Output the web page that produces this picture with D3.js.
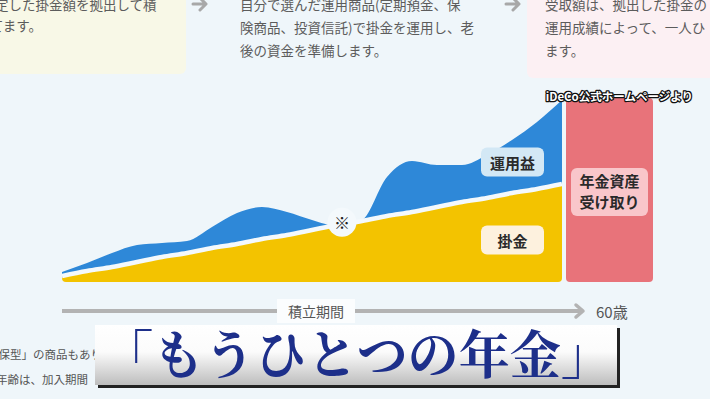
<!DOCTYPE html>
<html>
<head>
<meta charset="utf-8">
<script src="https://cdn.jsdelivr.net/npm/d3@7"></script>
<style>
  html, body { margin: 0; padding: 0; background: #eff6fa; overflow: hidden; }
  svg { display: block; font-family: "Noto Sans CJK JP", "Noto Sans", sans-serif; }
</style>
</head>
<body>
<div id="vis"></div>
<script>
// years into the accumulation period
const steps = [0, 1, 2, 3, 4, 5, 6, 7, 8, 9, 10, 11, 12, 13, 14, 15, 16, 17, 18, 19, 20];
// 掛金 (paid-in contributions), grows in a straight line
const contribution = [2.5, 5, 7, 9.5, 12, 14, 16.5, 18.5, 21, 23, 25.5, 28, 30, 32.5, 34.5, 37, 39.5, 41.5, 44, 46, 48.5];
// total assets = contributions + 運用益
const assets = [5, 9.5, 14.5, 18.5, 19.5, 20.5, 27.5, 34.5, 37.5, 35, 31, 28, 31, 52.5, 60.5, 58.5, 58.5, 63.5, 71, 80, 91];
// step where the ※ (loss warning) sits
const warnStep = 11.2;

const seriesLabels = ["運用益", "掛金"];
const payoutLabel = ["年金資産", "受け取り"];
const axisLabel = "積立期間";
const endLabel = "60歳";
const sourceLabel = "iDeCo公式ホームページより";
const captionText = "「もうひとつの年金」";

// description text from the page above the chart
const topLeftLines = ["定した掛金額を拠出して積", "てます。"];
const topMidLines = ["自分で選んだ運用商品(定期預金、保", "険商品、投資信託)で掛金を運用し、老", "後の資金を準備します。"];
const topRightLines = ["受取額は、拠出した掛金の", "運用成績によって、一人ひ", "ます。"];
const bottomLines = ["元本確保型」の商品もあります。", "受給開始年齢は、加入期間"];

const width = 710;
const height = 399;

const svg = d3.select("#vis").append("svg")
  .attr("width", width)
  .attr("height", height);

const defs = svg.append("defs");

// ---- page text above the chart ----
svg.append("rect").attr("x", -10).attr("y", -10).attr("width", 196).attr("height", 84)
  .attr("rx", 6).attr("fill", "#f8f8e7");
svg.append("rect").attr("x", 527).attr("y", -10).attr("width", 200).attr("height", 88)
  .attr("rx", 6).attr("fill", "#fcf0f3");

function textBlock(lines, xs, y0, lh) {
  svg.append("g").selectAll("text").data(lines).enter().append("text")
    .attr("x", (d, i) => xs[i])
    .attr("y", (d, i) => y0 + i * lh)
    .attr("font-size", 13.5)
    .attr("fill", "#5c5c5c")
    .text((d) => d);
}
textBlock(topLeftLines, [-5, -10], 10, 21);
textBlock(topMidLines, [240, 240, 240], 10, 23);
textBlock(topRightLines, [545, 545, 545], 10, 23);

// little grey arrows between the boxes
[200, 513].forEach((ax) => {
  svg.append("path")
    .attr("d", `M${ax - 7},4 L${ax + 5},4 M${ax},-2 L${ax + 6},4 L${ax},10`)
    .attr("fill", "none")
    .attr("stroke", "#a8a8a8")
    .attr("stroke-width", 3)
    .attr("stroke-linecap", "round")
    .attr("stroke-linejoin", "round");
});

// ---- scales ----
const x = d3.scaleLinear().domain([0, 20]).range([62, 562]);
const y = d3.scaleLinear().domain([0, 100]).range([282, 82]);

const rows = steps.map((s, i) => ({ step: s, base: contribution[i], total: assets[i] }));

defs.append("clipPath").attr("id", "plot-clip")
  .append("rect")
  .attr("x", x(0)).attr("y", y(100))
  .attr("width", x(20) - x(0)).attr("height", y(0) - y(100))
  .attr("rx", 4);

const plot = svg.append("g").attr("clip-path", "url(#plot-clip)");

// 運用益 (blue) sits on top of the contributions
const profitArea = d3.area()
  .x((d) => x(d.step))
  .y0((d) => y(d.base))
  .y1((d) => y(d.total))
  .curve(d3.curveMonotoneX);

plot.append("path")
  .datum(rows)
  .attr("d", profitArea)
  .attr("fill", "#2e88d8");

// 掛金 (yellow)
const baseArea = d3.area()
  .x((d) => x(d.step))
  .y0(y(0))
  .y1((d) => y(d.base))
  .curve(d3.curveMonotoneX);

plot.append("path")
  .datum(rows)
  .attr("d", baseArea)
  .attr("fill", "#f3c300");

// white gap between the two layers
plot.append("path")
  .datum(rows)
  .attr("d", d3.line().x((d) => x(d.step)).y((d) => y(d.base) - 1).curve(d3.curveMonotoneX))
  .attr("fill", "none")
  .attr("stroke", "#f4f9fc")
  .attr("stroke-width", 4.5);

// ※ marker
const wx = x(warnStep);
const wy = y(d3.interpolateNumber(contribution[11], contribution[12])(warnStep - 11)) - 3;
svg.append("circle").attr("cx", wx).attr("cy", wy).attr("r", 14.5).attr("fill", "#f4f9fc");
svg.append("text")
  .attr("x", wx).attr("y", wy)
  .attr("text-anchor", "middle")
  .attr("dominant-baseline", "central")
  .attr("font-size", 16)
  .attr("fill", "#222")
  .text("※");

// pension payout column
const payTop = y(d3.max(assets)) - 2;
svg.append("rect")
  .attr("x", x(20) + 4).attr("y", payTop)
  .attr("width", 87).attr("height", y(0) - payTop)
  .attr("rx", 4)
  .attr("fill", "#e8737a");

svg.append("rect")
  .attr("x", x(20) + 9).attr("y", 168)
  .attr("width", 77).attr("height", 48)
  .attr("rx", 6)
  .attr("fill", "#f9c6ca");
svg.append("g").selectAll("text").data(payoutLabel).enter().append("text")
  .attr("x", x(20) + 47.5)
  .attr("y", (d, i) => 187 + i * 21)
  .attr("text-anchor", "middle")
  .attr("font-size", 15)
  .attr("font-weight", 700)
  .attr("fill", "#2a2a2a")
  .text((d) => d);

// series tags
const tagY = [162, 240];
const tagFill = ["#d3e8f5", "#fdf1de"];
seriesLabels.forEach((lbl, i) => {
  svg.append("rect")
    .attr("x", 481).attr("y", tagY[i] - 14.5)
    .attr("width", 63).attr("height", 29)
    .attr("rx", 6)
    .attr("fill", tagFill[i]);
  svg.append("text")
    .attr("x", 512.5).attr("y", tagY[i])
    .attr("text-anchor", "middle")
    .attr("dominant-baseline", "central")
    .attr("font-size", 15)
    .attr("font-weight", 700)
    .attr("fill", "#2a2a2a")
    .text(lbl);
});

// source credit (TV-style outlined text)
svg.append("text")
  .attr("x", 693).attr("y", 101)
  .attr("text-anchor", "end")
  .attr("font-size", 11.5)
  .attr("font-weight", 700)
  .attr("fill", "#fff")
  .attr("stroke", "#111")
  .attr("stroke-width", 2.5)
  .attr("paint-order", "stroke")
  .attr("stroke-linejoin", "round")
  .text(sourceLabel);

// ---- time axis arrow ----
const axisY = 311;
svg.append("line")
  .attr("x1", x(0)).attr("x2", x(20) + 20)
  .attr("y1", axisY).attr("y2", axisY)
  .attr("stroke", "#b3b3b3")
  .attr("stroke-width", 4);
svg.append("path")
  .attr("d", `M${x(20) + 14},${axisY - 6} L${x(20) + 21},${axisY} L${x(20) + 14},${axisY + 6}`)
  .attr("fill", "none")
  .attr("stroke", "#b3b3b3")
  .attr("stroke-width", 3.5)
  .attr("stroke-linecap", "round")
  .attr("stroke-linejoin", "round");
svg.append("rect")
  .attr("x", 277).attr("y", 299)
  .attr("width", 78).attr("height", 24)
  .attr("fill", "#fbfdfe");
svg.append("text")
  .attr("x", 316).attr("y", axisY)
  .attr("text-anchor", "middle")
  .attr("dominant-baseline", "central")
  .attr("font-size", 14)
  .attr("fill", "#555")
  .text(axisLabel);
svg.append("text")
  .attr("x", 596).attr("y", axisY)
  .attr("dominant-baseline", "central")
  .attr("font-size", 15)
  .attr("fill", "#555")
  .text(endLabel);

// page text below, partly hidden by the caption
svg.append("g").selectAll("text").data(bottomLines).enter().append("text")
  .attr("x", (d, i) => (i === 0 ? -36 : -50))
  .attr("y", (d, i) => 359 + i * 25)
  .attr("font-size", 11.5)
  .attr("fill", "#555")
  .text((d) => d);

// ---- TV caption ----
const grad = defs.append("linearGradient").attr("id", "cap-grad")
  .attr("x1", 0).attr("x2", 0).attr("y1", 0).attr("y2", 1);
grad.append("stop").attr("offset", "0%").attr("stop-color", "#ffffff");
grad.append("stop").attr("offset", "45%").attr("stop-color", "#fbfbfb");
grad.append("stop").attr("offset", "100%").attr("stop-color", "#bdbdbd");

svg.append("rect")
  .attr("x", 98).attr("y", 328)
  .attr("width", 522).attr("height", 60)
  .attr("fill", "#222");
svg.append("rect")
  .attr("x", 95).attr("y", 325)
  .attr("width", 522).attr("height", 60)
  .attr("fill", "url(#cap-grad)");
svg.append("text")
  .attr("x", 102).attr("y", 374)
  .attr("font-family", "'Noto Serif CJK JP', 'Noto Sans CJK JP', serif")
  .attr("font-size", 52)
  .attr("font-weight", 700)
  .attr("fill", "#1d2f8a")
  .attr("textLength", 510)
  .attr("lengthAdjust", "spacingAndGlyphs")
  .text(captionText);
</script>
</body>
</html>
